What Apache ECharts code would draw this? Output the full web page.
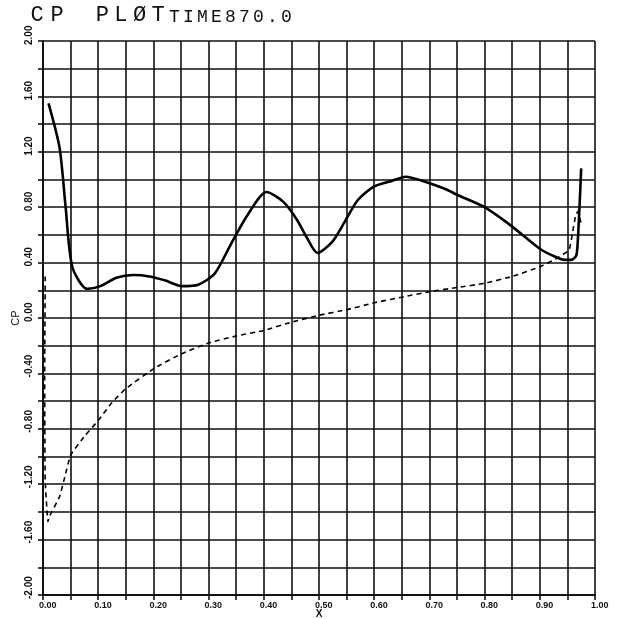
<!DOCTYPE html>
<html>
<head>
<meta charset="utf-8">
<script src="https://cdn.jsdelivr.net/npm/echarts@6/dist/echarts.min.js"></script>
<style>
  html, body { margin: 0; padding: 0; background: #fff; }
  #chart { width: 622px; height: 619px; }
</style>
</head>
<body>
<div id="chart"></div>
<script>
// 标题文字
var titleBig = 'CP PLØT';
var titleSmall = 'TIME870.0';

// 上表面 (实线)
var solidX = [0.010, 0.030, 0.041, 0.053, 0.080, 0.104, 0.133, 0.163, 0.193, 0.222,
  0.252, 0.281, 0.311, 0.340, 0.370, 0.405, 0.435, 0.460, 0.478, 0.497,
  0.524, 0.546, 0.570, 0.600, 0.632, 0.657, 0.688, 0.730, 0.750, 0.800,
  0.850, 0.900, 0.929, 0.945, 0.957, 0.966, 0.969, 0.972, 0.975];
var solidY = [1.55, 1.23, 0.80, 0.37, 0.21, 0.23, 0.29, 0.31, 0.30, 0.27,
  0.23, 0.24, 0.32, 0.53, 0.74, 0.91, 0.84, 0.71, 0.58, 0.47,
  0.55, 0.69, 0.85, 0.95, 0.99, 1.02, 0.99, 0.93, 0.89, 0.80,
  0.66, 0.50, 0.44, 0.42, 0.42, 0.45, 0.57, 0.81, 1.08];

// 下表面 (虚线)
var dashX = [0.004, 0.003, 0.004, 0.009, 0.012, 0.030, 0.040, 0.050, 0.076, 0.100,
  0.125, 0.150, 0.203, 0.250, 0.300, 0.350, 0.400, 0.450, 0.500, 0.550,
  0.600, 0.650, 0.700, 0.750, 0.800, 0.850, 0.900, 0.930, 0.953, 0.959,
  0.965, 0.969, 0.975];
var dashY = [0.30, -0.45, -1.17, -1.47, -1.43, -1.29, -1.14, -0.99, -0.85, -0.74,
  -0.61, -0.51, -0.36, -0.26, -0.18, -0.13, -0.09, -0.03, 0.02, 0.06,
  0.11, 0.15, 0.19, 0.22, 0.25, 0.30, 0.37, 0.43, 0.49, 0.61,
  0.74, 0.77, 0.68];

var toPairs = function (xs, ys) {
  var out = [];
  for (var i = 0; i < xs.length; i++) out.push([xs[i], ys[i]]);
  return out;
};

var fmt = function (v) {
  if (Math.abs(v) < 1e-9) v = 0;
  return v.toFixed(2);
};

// 每个字符单独一格, 模拟绘图仪字距
var titleText = titleBig.split('').map(function (c, i) {
  if (c === ' ') return '{s| }';
  return (i < 2 ? '{a|' : '{c|') + c + '}';
}).join('') + titleSmall.split('').map(function (c) { return '{b|' + c + '}'; }).join('');

var lineCol = '#111';
var myChart = echarts.init(document.getElementById('chart'));

var bigFont = { fontFamily: 'Liberation Mono', fontWeight: 'normal', fontSize: 22, align: 'center', color: '#111', lineHeight: 26, verticalAlign: 'bottom' };

var option = {
  backgroundColor: '#fff',
  animation: false,
  title: {
    text: titleText,
    left: 27,
    top: 0,
    padding: 0,
    textStyle: {
      rich: {
        a: Object.assign({}, bigFont, { width: 20 }),
        s: Object.assign({}, bigFont, { width: 26 }),
        c: Object.assign({}, bigFont, { width: 18.6 }),
        b: { fontFamily: 'Liberation Mono', fontWeight: 'normal', fontSize: 18, width: 14, align: 'center', color: '#111', lineHeight: 26, verticalAlign: 'bottom' }
      }
    }
  },
  grid: { left: 43, right: 27, top: 41, bottom: 24, outerBoundsMode: 'none', containLabel: false },
  xAxis: {
    type: 'value',
    min: 0, max: 1, interval: 0.1,
    name: 'X',
    nameLocation: 'middle',
    nameGap: 14,
    nameMoveOverlap: false,
    nameTextStyle: { fontFamily: 'Liberation Sans', fontWeight: 'bold', fontSize: 10, color: '#111' },
    axisLine: { show: true, onZero: false, lineStyle: { color: lineCol, width: 2 } },
    axisTick: { show: true, length: 5, lineStyle: { color: lineCol, width: 1.6 } },
    minorTick: { show: true, splitNumber: 2, length: 5, lineStyle: { color: lineCol, width: 1.6 } },
    splitLine: { show: true, lineStyle: { color: lineCol, width: 1.6 } },
    minorSplitLine: { show: true, lineStyle: { color: lineCol, width: 1.6 } },
    axisLabel: {
      formatter: fmt, align: 'left', margin: 6, padding: [0, 0, 0, -4],
      fontFamily: 'Liberation Sans', fontWeight: 'bold', fontSize: 9, color: '#111'
    }
  },
  yAxis: {
    type: 'value',
    min: -2, max: 2, interval: 0.4,
    name: 'CP',
    nameLocation: 'middle',
    nameRotate: 90,
    nameGap: 22,
    nameMoveOverlap: false,
    nameTextStyle: { fontFamily: 'Liberation Sans', fontSize: 11, color: '#111' },
    axisLine: { show: true, onZero: false, lineStyle: { color: lineCol, width: 2 } },
    axisTick: { show: true, length: 5, lineStyle: { color: lineCol, width: 1.6 } },
    minorTick: { show: true, splitNumber: 2, length: 5, lineStyle: { color: lineCol, width: 1.6 } },
    splitLine: { show: true, lineStyle: { color: lineCol, width: 1.6 } },
    minorSplitLine: { show: true, lineStyle: { color: lineCol, width: 1.6 } },
    axisLabel: {
      formatter: fmt, rotate: 90, align: 'left', verticalAlign: 'middle', margin: 14, padding: [0, 0, 0, -4],
      fontFamily: 'Liberation Sans', fontWeight: 'bold', fontSize: 10, color: '#111'
    }
  },
  series: [
    {
      name: 'upper',
      type: 'line',
      data: toPairs(solidX, solidY),
      showSymbol: false,
      smooth: 0.25,
      lineStyle: { color: '#000', width: 2.6 }
    },
    {
      name: 'lower',
      type: 'line',
      data: toPairs(dashX, dashY),
      showSymbol: false,
      smooth: 0.12,
      lineStyle: { color: '#000', width: 1.6, type: [5, 4] }
    }
  ]
};
myChart.setOption(option);
</script>
</body>
</html>
